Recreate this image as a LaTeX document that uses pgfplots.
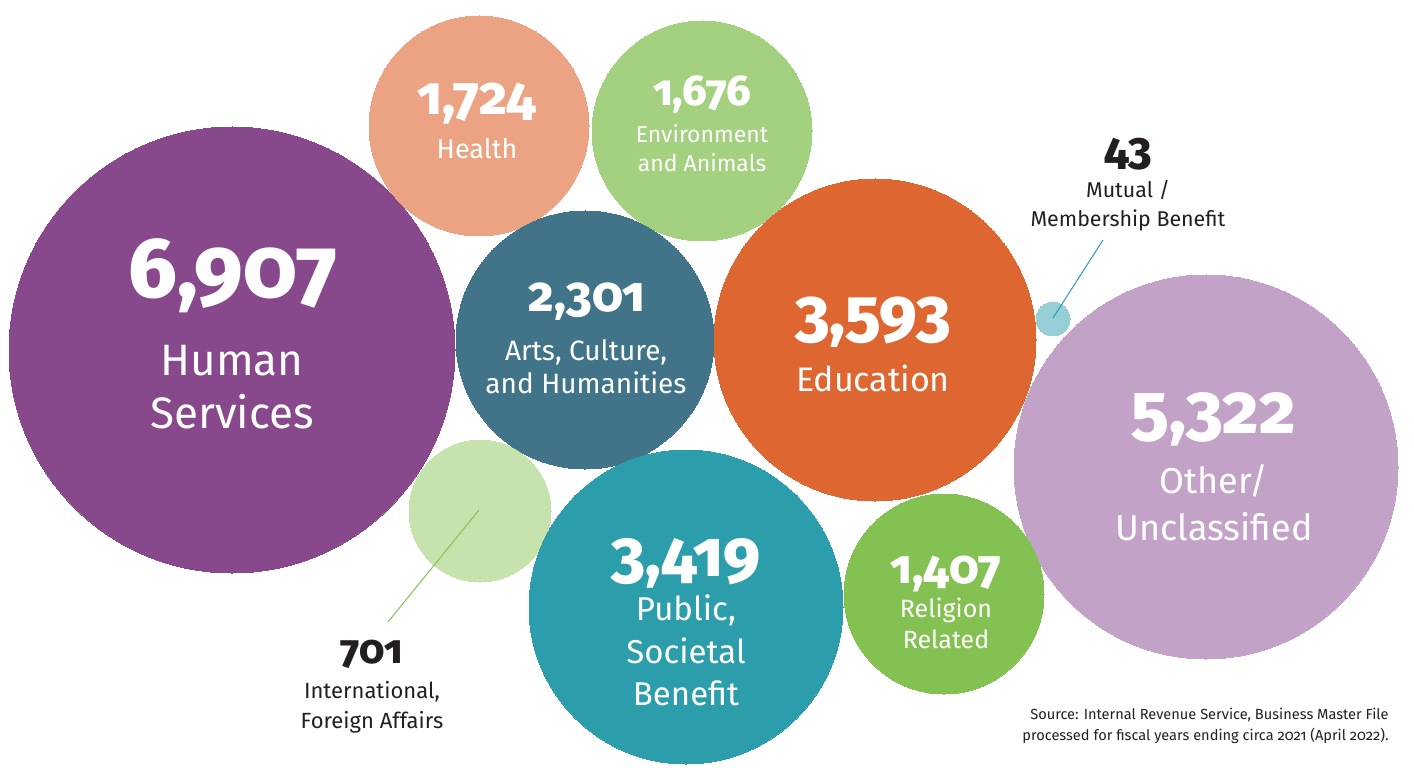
\documentclass[border=0pt]{standalone}
\usepackage{pgfplots}
\pgfplotsset{compat=1.18}
\usepackage{fontspec}
\setmainfont{Fira Sans}[Numbers=OldStyle, BoldFont={Fira Sans ExtraBold}]
\definecolor{cHum}{HTML}{87488C}
\definecolor{cHea}{HTML}{EBA383}
\definecolor{cEnv}{HTML}{A3D17F}
\definecolor{cArt}{HTML}{417489}
\definecolor{cEdu}{HTML}{DE6731}
\definecolor{cMut}{HTML}{95CFD5}
\definecolor{cOth}{HTML}{C3A2C7}
\definecolor{cInt}{HTML}{C6E2AD}
\definecolor{cPub}{HTML}{2B9DAB}
\definecolor{cRel}{HTML}{84C153}
\definecolor{cDark}{HTML}{231F20}
\newcommand{\fs}[1]{\fontsize{#1pt}{#1pt}\selectfont}
\newcommand{\bub}[4]{\addplot[#4, only marks, mark=*, mark size=#3*0.5pt, mark options={draw=#4, fill=#4, line width=0pt}] coordinates {(#1,#2)};}
\newcommand{\tx}[5]{\node[anchor=base, text=#4, inner sep=0pt, font=\fs{#3}] at (axis cs:#1,#2) {#5};}
\newcommand{\bx}[5]{\node[anchor=base, text=#4, inner sep=0pt, font=\fs{#3}\bfseries] at (axis cs:#1,#2) {#5};}
\begin{document}
\begin{tikzpicture}
\begin{axis}[scale only axis, width=707pt, height=383.5pt,
  xmin=0, xmax=1414, ymin=0, ymax=767, y dir=reverse,
  hide axis, clip=false, set layers, mark layer=axis background]
% bubbles: x, y, radius (px)
\bub{232}{350}{223}{cHum}
\bub{479}{126}{110}{cHea}
\bub{702}{131}{110}{cEnv}
\bub{585}{340}{129}{cArt}
\bub{875}{340}{161}{cEdu}
\bub{1053}{319}{17}{cMut}
\bub{1206}{467}{192}{cOth}
\bub{480}{511}{71}{cInt}
\bub{686}{607}{157}{cPub}
\bub{944}{594}{100}{cRel}
% leader lines
\addplot[cPub, line width=0.5pt] coordinates {(1053,318) (1103,240)};
\addplot[cRel, line width=0.5pt] coordinates {(479,510) (388,622)};
% labels
\bx{233}{298}{42.5}{white}{6,907}
\tx{232}{375}{22}{white}{Human}
\tx{232}{428}{22}{white}{Services}
\bx{477}{115}{27}{white}{1,724}
\tx{477}{159}{13.5}{white}{Health}
\bx{702}{106}{21.5}{white}{1,676}
\tx{702}{143}{11.5}{white}{Environment}
\tx{702}{172}{11.5}{white}{and Animals}
\bx{587}{312}{24.5}{white}{2,301}
\tx{586}{360}{14}{white}{Arts, Culture,}
\tx{586}{394}{14}{white}{and Humanities}
\bx{873}{336}{33}{white}{3,593}
\tx{873}{391}{17}{white}{Education}
\bx{1214}{433}{35}{white}{5,322}
\tx{1214}{493}{18}{white}{Other/}
\tx{1214}{540}{18}{white}{Unclassified}
\bx{686}{576}{32.5}{white}{3,419}
\tx{686}{620}{16.5}{white}{Public,}
\tx{686}{663}{16.5}{white}{Societal}
\tx{686}{705}{16.5}{white}{Benefit}
\bx{946}{583}{23.5}{white}{1,407}
\tx{946}{617}{12.5}{white}{Religion}
\tx{946}{648}{12.5}{white}{Related}
\bx{1128}{165}{22.5}{cDark}{43}
\tx{1128}{198}{10.7}{cDark}{Mutual /}
\tx{1128}{227}{10.7}{cDark}{Membership Benefit}
\bx{372}{663}{20}{cDark}{701}
\tx{372}{698}{11}{cDark}{International,}
\tx{372}{728}{11}{cDark}{Foreign Affairs}
\node[anchor=base east, inner sep=0pt, text=cDark, font=\fs{7.3}] at (axis cs:1389,719) {Source: Internal Revenue Service, Business Master File};
\node[anchor=base east, inner sep=0pt, text=cDark, font=\fs{7.3}] at (axis cs:1389,740) {processed for fiscal years ending circa 2021 (April 2022).};
\end{axis}
\pgfresetboundingbox
\path (current axis.south west) rectangle (current axis.north east);
\end{tikzpicture}
\end{document}
